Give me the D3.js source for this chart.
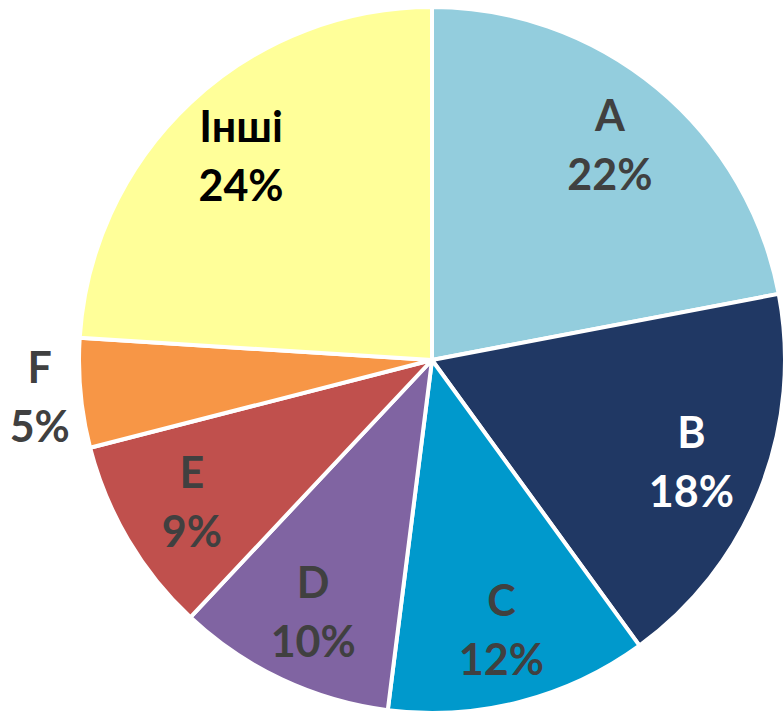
<!DOCTYPE html>
<html><head><meta charset="utf-8">
<script src="https://cdn.jsdelivr.net/npm/d3@7"></script>
<style>html,body{margin:0;padding:0;background:#fff;overflow:hidden}</style>
</head><body>
<svg id="chart" width="784" height="714"></svg>
<script>
const categories = ["A", "B", "C", "D", "E", "F", "Інші"];
const values = [22, 18, 12, 10, 9, 5, 24];
const colors = ["#93CDDD", "#203864", "#0099CC", "#8064A2", "#C0504D", "#F79646", "#FFFF99"];
const labelColors = ["#404040", "#FFFFFF", "#404040", "#404040", "#404040", "#404040", "#000000"];
const outsideLabel = [false, false, false, false, false, true, false];

const data = categories.map((c, i) => ({cat: c, value: values[i], i}));
const svg = d3.select("#chart");
const cx = 432, cy = 360, R = 353;
const g = svg.append("g").attr("transform", `translate(${cx},${cy})`);

const pie = d3.pie().value(d => d.value).sort(null);
const arcs = pie(data);
const arc = d3.arc().innerRadius(0).outerRadius(R);
const labelArc = d3.arc().innerRadius(279).outerRadius(279);
const outArc = d3.arc().innerRadius(394).outerRadius(394);

g.selectAll("path").data(arcs).join("path")
  .attr("d", arc)
  .attr("fill", d => colors[d.data.i])
  .attr("stroke", "#fff")
  .attr("stroke-width", 4)
  .attr("stroke-linejoin", "round");

const total = d3.sum(values);
const lab = g.selectAll("g.lab").data(arcs).join("g").attr("class", "lab")
  .attr("transform", d => {
    const p = (outsideLabel[d.data.i] ? outArc : labelArc).centroid(d);
    return `translate(${p[0]},${p[1]})`;
  });
lab.append("text")
  .attr("text-anchor", "middle")
  .attr("y", -14.5)
  .attr("font-family", "Lato, 'Open Sans', sans-serif")
  .attr("font-weight", "bold")
  .attr("font-size", 43)
  .attr("fill", d => labelColors[d.data.i])
  .text(d => d.data.cat);
lab.append("text")
  .attr("text-anchor", "middle")
  .attr("y", 44.5)
  .attr("font-family", "Lato, 'Open Sans', sans-serif")
  .attr("font-weight", "bold")
  .attr("font-size", 43)
  .attr("fill", d => labelColors[d.data.i])
  .text(d => Math.round(d.data.value / total * 100) + "%");
</script>
</body></html>
